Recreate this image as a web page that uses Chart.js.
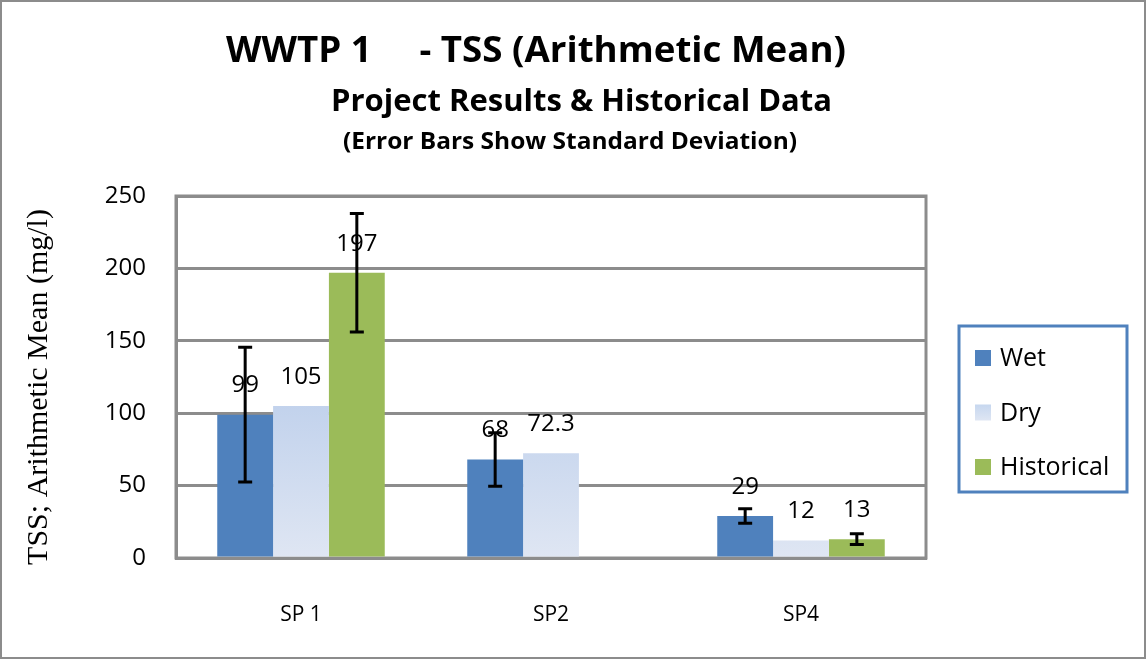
<!DOCTYPE html>
<html>
<head>
<meta charset="utf-8">
<script src="https://cdn.jsdelivr.net/npm/chart.js@4/dist/chart.umd.min.js"></script>
<style>
  html, body { margin: 0; padding: 0; background: #fff; }
  #wrap { position: relative; width: 1146px; height: 659px; box-sizing: border-box; border: 2px solid #8c8c8c; }
  canvas { position: absolute; left: -2px; top: -2px; }
</style>
</head>
<body>
<div id="wrap"><canvas id="chart" width="1146" height="659"></canvas></div>
<script>
const categories = ["SP 1", "SP2", "SP4"];
const wetValues = [99, 68, 29];
const dryValues = [105, 72.3, 12];
const histValues = [197, null, 13];
const wetSD = [46.5, 18.5, 5];
const drySD = [null, null, null];
const histSD = [41, null, 3.7];
const yTicks = [0, 50, 100, 150, 200, 250];

// each title line gets its own size, and is fitted to the width seen in the picture
const titleLines = [
    { text: "WWTP 1     - TSS (Arithmetic Mean)", font: "bold 35px 'Open Sans'", left: 226, width: 620, y: 52 },
    { text: "Project Results & Historical Data", font: "bold 31px 'Open Sans'", left: 331, width: 501, y: 102 },
    { text: "(Error Bars Show Standard Deviation)", font: "bold 23px 'Open Sans'", left: 343, width: 454, y: 142 }
];
const yTitle = "TSS; Arithmetic Mean (mg/l)";

const wetColor = "#4f81bd";
const histColor = "#9bbb59";
const baseFont = "'Open Sans'";

function dryFill(context)
{
    const chart = context.chart;
    const area = chart.chartArea;
    if(!area) return "#c6d7ef";
    const grad = chart.ctx.createLinearGradient(0, area.top, 0, area.bottom);
    grad.addColorStop(0, "#c6d7ef");
    grad.addColorStop(0.55, "#c0d1ec");
    grad.addColorStop(1, "#dfe6f3");
    return grad;
}

const titlePlugin = {
    id: "titles",
    afterDraw(chart)
    {
        const ctx = chart.ctx;
        ctx.save();
        ctx.fillStyle = "#000";
        ctx.textAlign = "left";
        ctx.textBaseline = "middle";
        for(const line of titleLines)
        {
            ctx.font = line.font;
            const w = ctx.measureText(line.text).width;
            ctx.save();
            ctx.translate(line.left, line.y);
            ctx.scale(line.width / w, 1);
            ctx.fillText(line.text, 0, 0);
            ctx.restore();
        }
        // y axis title (serif, rotated)
        ctx.font = "30px 'Liberation Serif'";
        ctx.textAlign = "center";
        ctx.translate(39, 387);
        ctx.rotate(-Math.PI / 2);
        ctx.fillText(yTitle, 0, 0);
        ctx.restore();
    }
};

// right + top frame of plot
const framePlugin = {
    id: "frame",
    beforeDatasetsDraw(chart)
    {
        const a = chart.chartArea;
        const ctx = chart.ctx;
        ctx.save();
        ctx.strokeStyle = "#8c8c8c";
        ctx.lineWidth = 3;
        ctx.strokeRect(a.left, a.top, a.right - a.left, a.bottom - a.top);
        ctx.restore();
    }
};

// error bars + value labels
const errLabelPlugin = {
    id: "errLabels",
    afterDatasetsDraw(chart)
    {
        const ctx = chart.ctx;
        const yScale = chart.scales.y;
        ctx.save();
        chart.data.datasets.forEach((ds, di) => {
            const meta = chart.getDatasetMeta(di);
            meta.data.forEach((bar, i) => {
                const v = ds.data[i];
                if(v === null) return;
                ctx.fillStyle = "#000";
                ctx.font = "24px " + baseFont;
                ctx.textAlign = "center";
                ctx.textBaseline = "middle";
                ctx.fillText(String(v), bar.x, yScale.getPixelForValue(v) - 29);
                const sd = ds.sd[i];
                if(sd === null) return;
                const yt = yScale.getPixelForValue(v + sd);
                const yb = yScale.getPixelForValue(v - sd);
                ctx.strokeStyle = "#000";
                ctx.lineWidth = 3;
                ctx.beginPath();
                ctx.moveTo(bar.x, yt); ctx.lineTo(bar.x, yb);
                ctx.moveTo(bar.x - 7, yt); ctx.lineTo(bar.x + 7, yt);
                ctx.moveTo(bar.x - 7, yb); ctx.lineTo(bar.x + 7, yb);
                ctx.stroke();
            });
        });
        ctx.restore();
    }
};

const legendPlugin = {
    id: "boxLegend",
    afterDraw(chart)
    {
        const ctx = chart.ctx;
        ctx.save();
        ctx.strokeStyle = "#4f81bd";
        ctx.lineWidth = 3;
        ctx.strokeRect(959, 326, 168, 166);
        ctx.font = "25px " + baseFont;
        ctx.textBaseline = "middle";
        ctx.textAlign = "left";
        chart.data.datasets.forEach((ds, di) => {
            const cy = 358 + di * 54.5;
            if(di === 1)
            {
                const g = ctx.createLinearGradient(0, cy - 8, 0, cy + 8);
                g.addColorStop(0, "#c6d7ef");
                g.addColorStop(1, "#dfe6f3");
                ctx.fillStyle = g;
            }
            else ctx.fillStyle = ds.backgroundColor;
            ctx.fillRect(975, cy - 8, 16, 16);
            ctx.fillStyle = "#000";
            ctx.fillText(ds.label, 1000, cy + 1);
        });
        ctx.restore();
    }
};

new Chart(document.getElementById("chart"), {
    type: "bar",
    data: {
        labels: categories,
        datasets: [
            { label: "Wet", data: wetValues, sd: wetSD, backgroundColor: wetColor },
            { label: "Dry", data: dryValues, sd: drySD, backgroundColor: dryFill },
            { label: "Historical", data: histValues, sd: histSD, backgroundColor: histColor }
        ]
    },
    options: {
        responsive: false,
        animation: false,
        layout: { padding: { top: 196, right: 220, bottom: 0, left: 0 } },
        datasets: { bar: { categoryPercentage: 0.67, barPercentage: 1.0 } },
        plugins: {
            legend: { display: false },
            tooltip: { enabled: false },
            title: { display: false }
        },
        scales: {
            x: {
                grid: { display: false },
                border: { display: true, color: "#8c8c8c", width: 3 },
                ticks: { color: "#000", font: { family: baseFont, size: 21 }, padding: 36 },
                afterFit(scale) { scale.height = 101; }
            },
            y: {
                min: 0,
                max: 250,
                afterBuildTicks(scale) { scale.ticks = yTicks.map(v => ({ value: v })); },
                grid: { color: "#8c8c8c", lineWidth: 3, drawTicks: false },
                border: { display: true, color: "#8c8c8c", width: 3 },
                ticks: { color: "#000", font: { family: baseFont, size: 24 }, padding: 30 },
                afterFit(scale) { scale.width = 176; }
            }
        }
    },
    plugins: [framePlugin, errLabelPlugin, titlePlugin, legendPlugin]
});
</script>
</body>
</html>
